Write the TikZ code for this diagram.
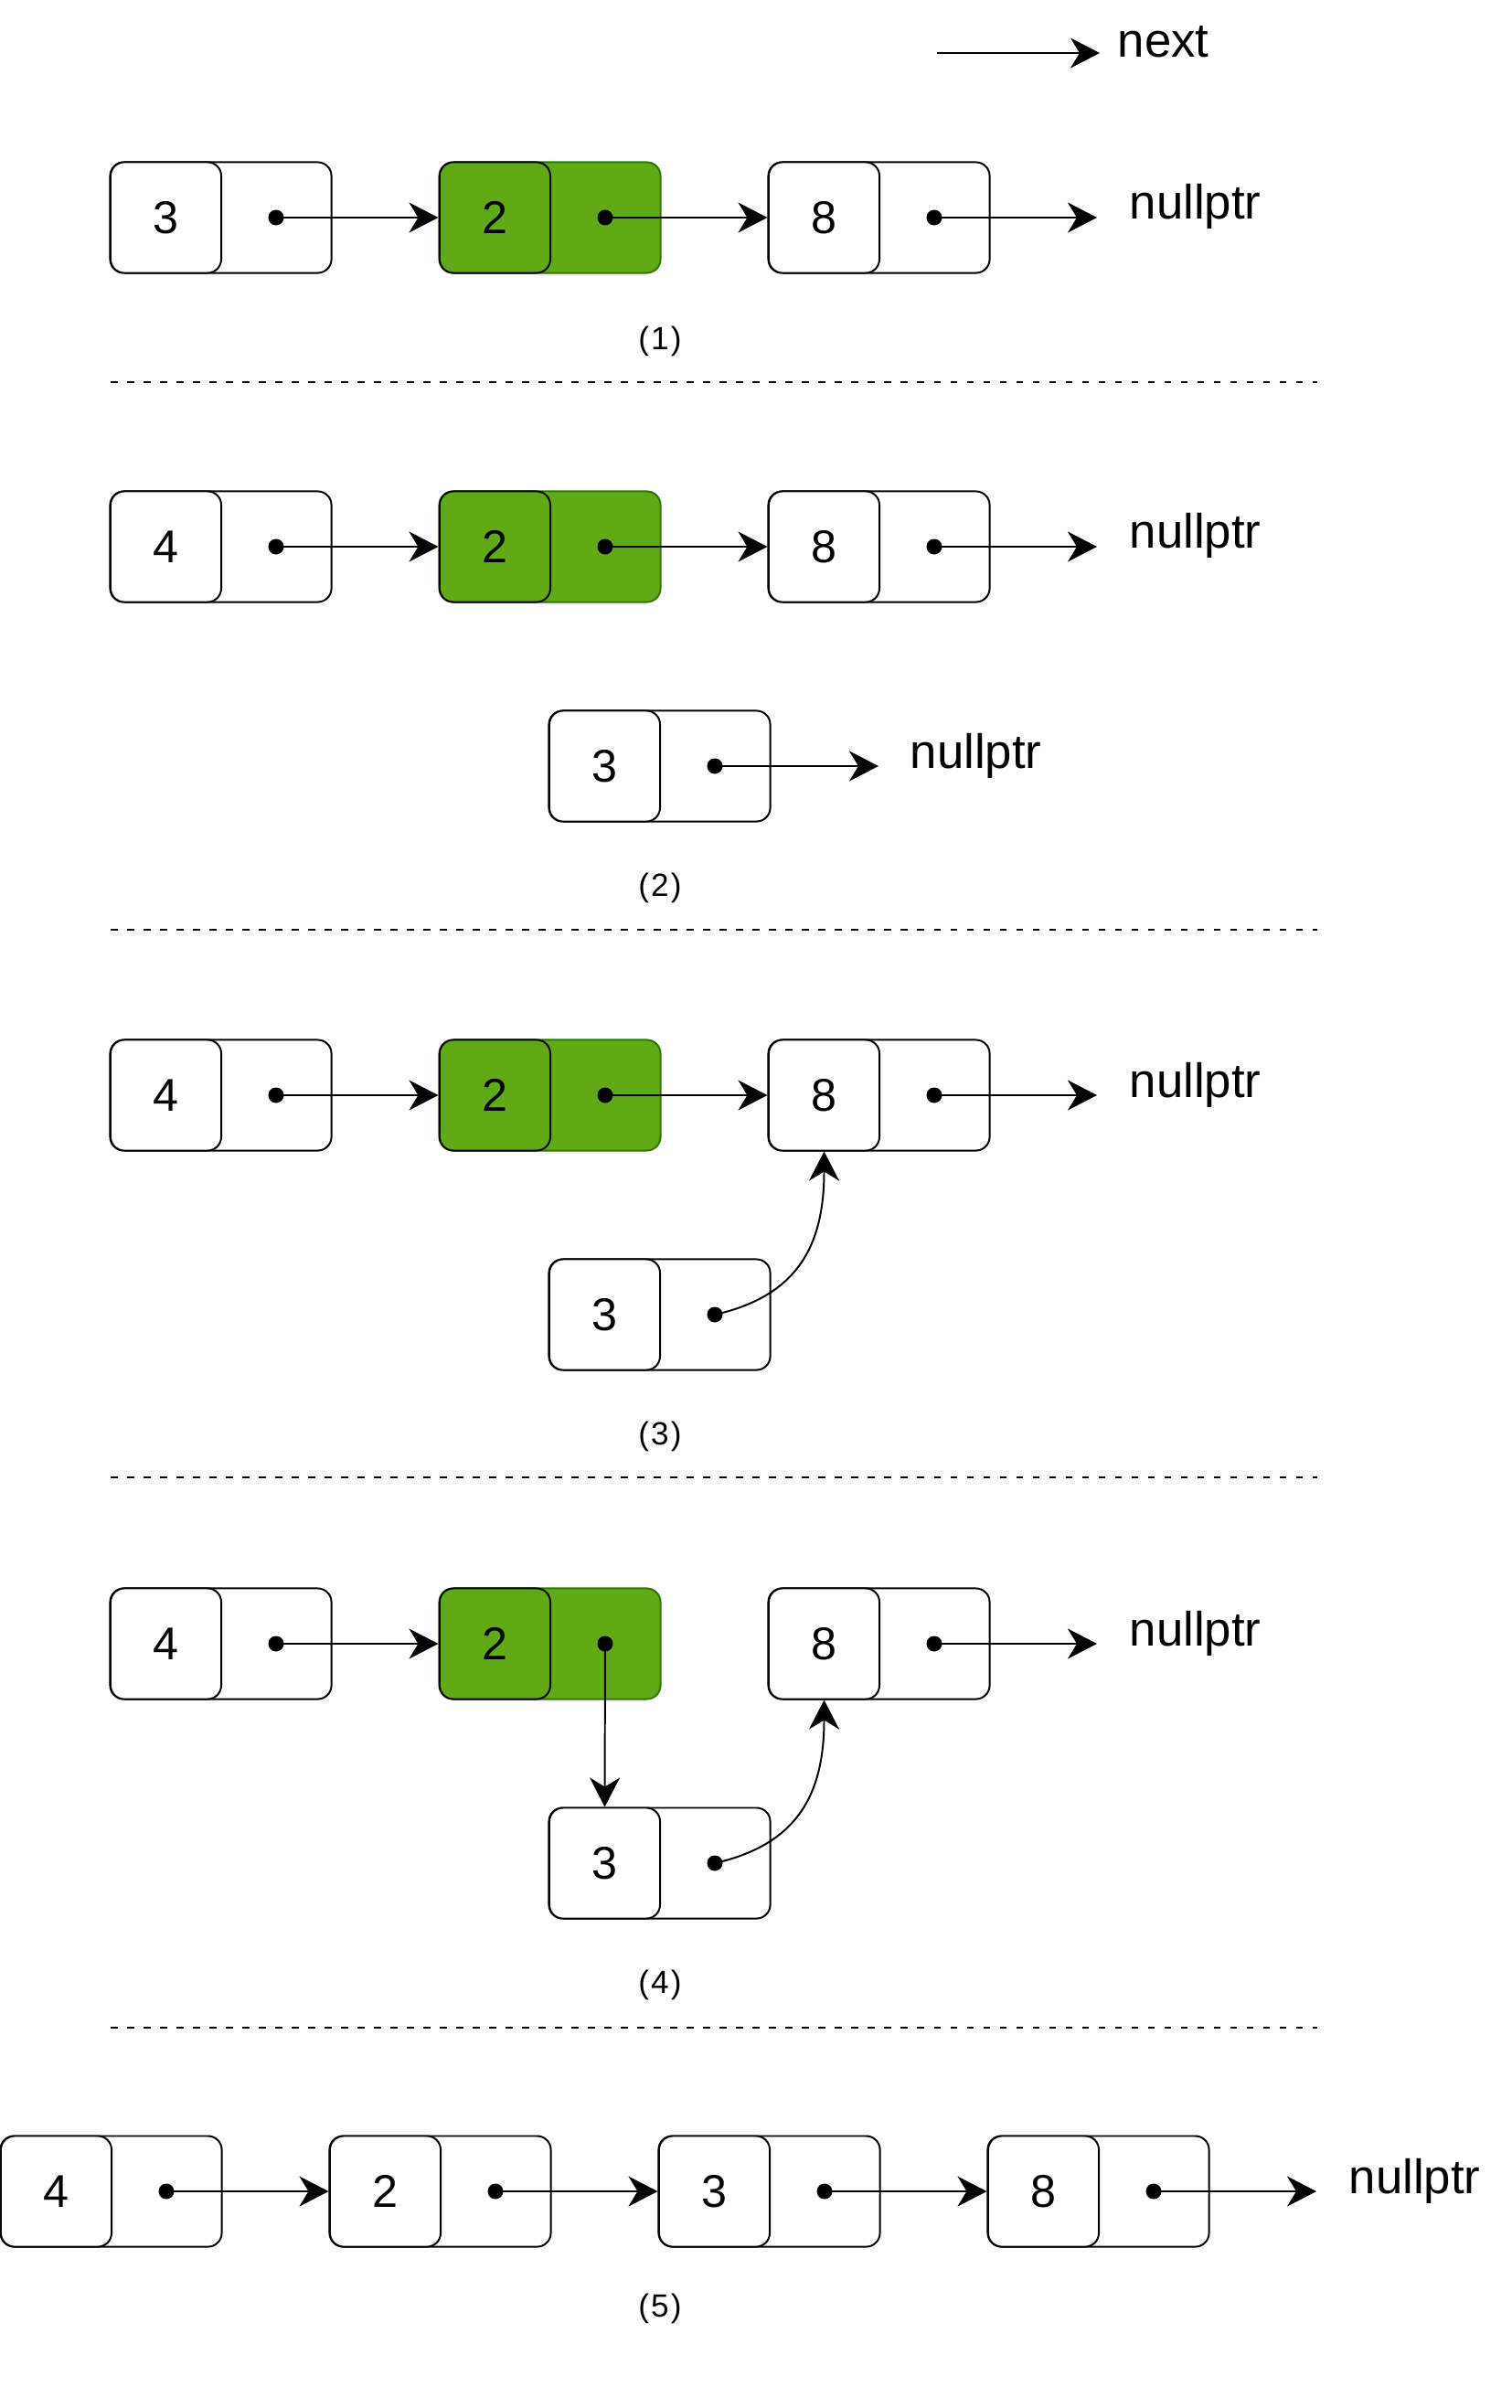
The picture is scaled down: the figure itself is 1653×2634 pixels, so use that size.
\documentclass[tikz,border=0pt]{standalone}
\usepackage{fontspec}
\setmainfont{Liberation Sans}
\usetikzlibrary{arrows.meta,calc}
\definecolor{gfill}{HTML}{60A917}
\definecolor{gline}{HTML}{2D7600}
\tikzset{
 lw/.style={line width=0.56pt},
 outerbox/.style={draw, lw, rounded corners=0.15cm, minimum width=2.42cm, minimum height=1.21cm, inner sep=0pt, fill=white},
 cellbox/.style={draw, lw, rounded corners=0.15cm, minimum width=1.21cm, minimum height=1.21cm, inner sep=0pt, fill=white, font=\fontsize{14.3}{17}\selectfont},
 plainout/.style={},
 plaincell/.style={},
 greenout/.style={fill=gfill, draw=gline},
 greencell/.style={fill=gfill},
 ptr/.style={circle, fill=black, inner sep=0pt, minimum size=0.17cm},
 arr/.style={lw, -{Stealth[length=0.32cm,width=0.33cm,inset=0.1cm]}},
 nulltxt/.style={anchor=base west, inner sep=0pt, font=\fontsize{15}{18}\selectfont},
 steplabel/.style={font=\fontsize{10}{12}\selectfont\addfontfeature{LetterSpace=6}, inner sep=0pt},
 sepline/.style={lw, dash pattern=on 0.075cm off 0.105cm},
}
\newcommand\listnode[5]{%
 \node[outerbox,#5out] (#1) at ({#2+120.5},#3) {};
 \node[cellbox,#5cell] (#1v) at ({#2+60.5},#3) {#4};
 \node[ptr] (#1d) at ({#2+181},#3) {};
}
\begin{document}
\begin{tikzpicture}[x=0.01cm,y=-0.01cm]
\useasboundingbox (0,0) rectangle (1653,2634);
% legend
\coordinate (lg1) at (1025,58);
\coordinate (lg2) at (1203,58);
\draw[arr] (lg1) -- (lg2);
\node[nulltxt] (lgt) at (1222,63) {next};
% (1)
\listnode{a1}{121}{238}{3}{plain}
\listnode{a2}{481}{238}{2}{green}
\listnode{a3}{841}{238}{8}{plain}
\coordinate (ta) at (1200,238);
\node[nulltxt] (na) at (1235,240) {nullptr};
\draw[arr] (a1d.center) -- (a2.west);
\draw[arr] (a2d.center) -- (a3.west);
\draw[arr] (a3d.center) -- (ta);
\node[steplabel] (l1) at (722,373) {(1)};
\draw[sepline] (121,418) -- (1441,418);
% (2)
\listnode{b1}{121}{598}{4}{plain}
\listnode{b2}{481}{598}{2}{green}
\listnode{b3}{841}{598}{8}{plain}
\coordinate (tb) at (1200,598);
\node[nulltxt] (nb) at (1235,600) {nullptr};
\draw[arr] (b1d.center) -- (b2.west);
\draw[arr] (b2d.center) -- (b3.west);
\draw[arr] (b3d.center) -- (tb);
\listnode{b4}{601}{838}{3}{plain}
\coordinate (tb4) at (961,838);
\node[nulltxt] (nb4) at (995,840) {nullptr};
\draw[arr] (b4d.center) -- (tb4);
\node[steplabel] (l2) at (722,971) {(2)};
\draw[sepline] (121,1017) -- (1441,1017);
% (3)
\listnode{c1}{121}{1198}{4}{plain}
\listnode{c2}{481}{1198}{2}{green}
\listnode{c3}{841}{1198}{8}{plain}
\coordinate (tc) at (1200,1198);
\node[nulltxt] (nc) at (1235,1200) {nullptr};
\draw[arr] (c1d.center) -- (c2.west);
\draw[arr] (c2d.center) -- (c3.west);
\draw[arr] (c3d.center) -- (tc);
\listnode{c4}{601}{1438}{3}{plain}
\draw[arr] (c4d.center) .. controls +(93,-21) and +(0,100) .. (c3v.south);
\node[steplabel] (l3) at (722,1571) {(3)};
\draw[sepline] (121,1616) -- (1441,1616);
% (4)
\listnode{d1}{121}{1798}{4}{plain}
\listnode{d2}{481}{1798}{2}{green}
\listnode{d3}{841}{1798}{8}{plain}
\coordinate (td) at (1200,1798);
\node[nulltxt] (nd) at (1235,1800) {nullptr};
\draw[arr] (d1d.center) -- (d2.west);
\draw[arr] (d3d.center) -- (td);
\listnode{d4}{601}{2038}{3}{plain}
\draw[arr] (d2d.center) -- (d4v.north);
\draw[arr] (d4d.center) .. controls +(93,-21) and +(0,100) .. (d3v.south);
\node[steplabel] (l4) at (722,2171) {(4)};
\draw[sepline] (121,2218) -- (1441,2218);
% (5)
\listnode{e1}{1}{2397}{4}{plain}
\listnode{e2}{361}{2397}{2}{plain}
\listnode{e3}{721}{2397}{3}{plain}
\listnode{e4}{1081}{2397}{8}{plain}
\coordinate (te) at (1440,2397);
\node[nulltxt] (ne) at (1475,2399) {nullptr};
\draw[arr] (e1d.center) -- (e2.west);
\draw[arr] (e2d.center) -- (e3.west);
\draw[arr] (e3d.center) -- (e4.west);
\draw[arr] (e4d.center) -- (te);
\node[steplabel] (l5) at (722,2525) {(5)};
\end{tikzpicture}
\end{document}
